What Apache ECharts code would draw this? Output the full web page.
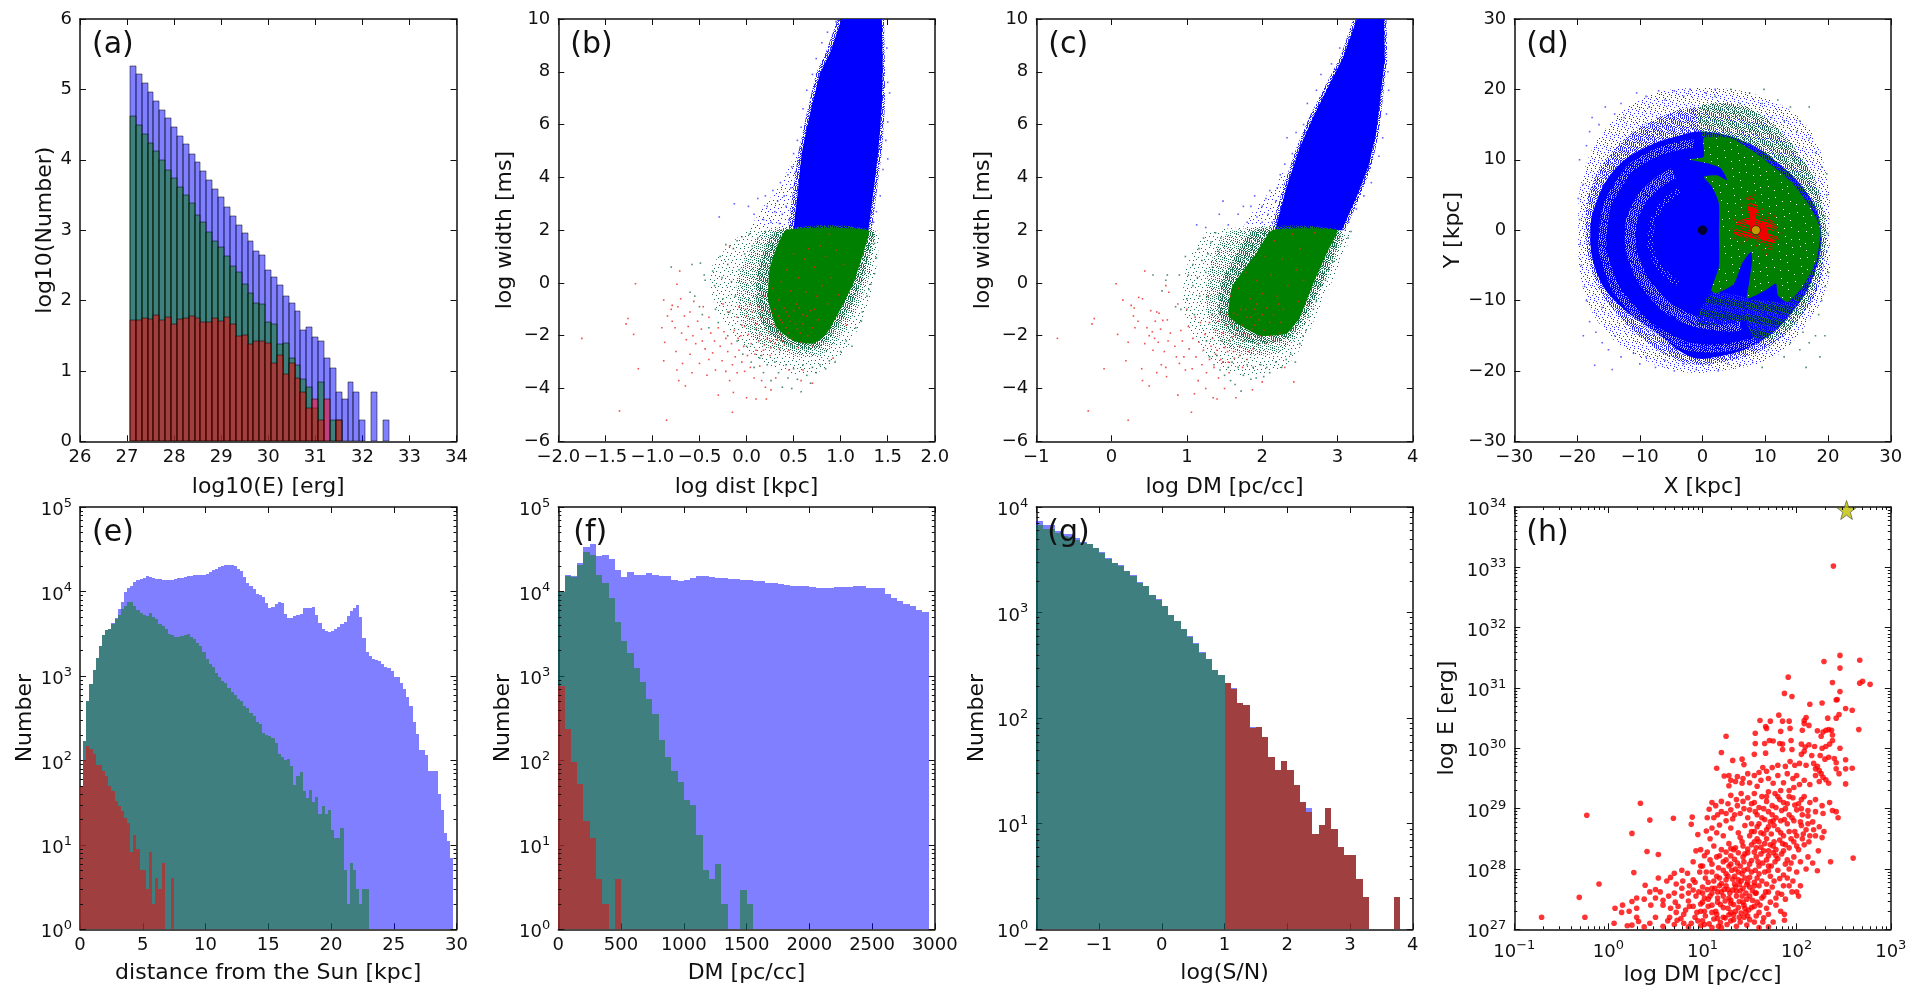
<!DOCTYPE html>
<html><head><meta charset="utf-8"><style>html,body{margin:0;padding:0;background:#fff}#c{width:1920px;height:991px}</style>
<script src="https://cdn.jsdelivr.net/npm/echarts@6/dist/echarts.min.js"></script></head><body><div id="c"></div>
<script>
// (a) log10 counts per energy bin
const aStart=27.06, aWidth=0.125;
const aBlue=[5.33,5.22,5.09,4.96,4.83,4.71,4.59,4.46,4.34,4.22,4.08,3.97,3.84,3.71,3.58,3.47,3.33,3.2,3.07,2.96,2.84,2.71,2.64,2.44,2.34,2.22,2.07,1.97,1.85,1.58,1.63,1.48,1.42,1.19,1.04,.7,.6,.84,.7,.3,0,.7,0,.3];
const aGreen=[4.62,4.49,4.37,4.24,4.12,4,3.85,3.74,3.62,3.5,3.38,3.22,3.12,2.98,2.85,2.76,2.63,2.49,2.4,2.23,2.1,1.96,1.95,1.69,1.66,1.38,1.39,1.19,1.08,.89,.77,.47,.84,0,.3,.3];
const aRed=[1.72,1.72,1.75,1.74,1.79,1.72,1.76,1.66,1.74,1.75,1.78,1.75,1.69,1.69,1.75,1.71,1.77,1.67,1.5,1.51,1.38,1.42,1.43,1.39,1.11,1.22,.95,1.11,.9,.7,.47,.6,.3,.6,0,.3];
// (e) log10 counts per distance bin
const eWidth=0.25;
const eBlue=[1.7,2.23,2.7,2.91,3.07,3.21,3.35,3.49,3.54,3.56,3.63,3.68,3.79,3.88,3.99,4.04,4.07,4.11,4.14,4.15,4.16,4.18,4.17,4.16,4.15,4.15,4.14,4.14,4.14,4.14,4.15,4.16,4.16,4.17,4.18,4.18,4.19,4.19,4.2,4.2,4.21,4.23,4.25,4.27,4.29,4.3,4.31,4.31,4.31,4.3,4.27,4.24,4.17,4.1,4.06,4.03,3.97,3.96,3.93,3.86,3.81,3.82,3.85,3.88,3.86,3.73,3.69,3.69,3.71,3.72,3.73,3.8,3.81,3.81,3.82,3.72,3.63,3.55,3.53,3.52,3.53,3.55,3.58,3.61,3.64,3.71,3.77,3.8,3.84,3.7,3.45,3.28,3.24,3.2,3.19,3.18,3.14,3.11,3.09,3.06,2.99,2.99,2.92,2.84,2.75,2.64,2.45,2.31,2.12,2.12,2.06,1.88,1.88,1.88,1.6,1.41,1.14,1.05,.85];
const eGreen=[1.7,2.23,2.7,2.91,3.07,3.21,3.35,3.49,3.54,3.56,3.62,3.67,3.72,3.79,3.83,3.87,3.87,3.83,3.78,3.74,3.72,3.71,3.74,3.7,3.67,3.61,3.59,3.55,3.5,3.49,3.46,3.46,3.47,3.49,3.5,3.46,3.44,3.39,3.35,3.28,3.2,3.14,3.1,3.03,2.99,2.94,2.92,2.86,2.81,2.77,2.73,2.7,2.64,2.62,2.56,2.53,2.46,2.43,2.33,2.3,2.29,2.27,2.21,2.07,2.04,2.01,2.02,1.93,1.71,1.82,1.86,1.64,1.56,1.65,1.51,1.57,1.37,1.46,1.37,1.41,1.18,1.08,1.08,1.2,.7,.3,.78,.7,.48,.3,.48,.48];
const eRed=[1.7,2,2.17,2.14,2.08,1.95,1.945,1.88,1.82,1.7,1.64,1.52,1.46,1.4,1.32,1.26,.91,1.12,.95,.7,.7,.48,.91,.3,.61,.48,.78,0,0,.61];
// (f) log10 counts per DM bin
const fWidth=50;
const fBlue=[3.99,4.19,4.18,4.34,4.53,4.56,4.42,4.43,4.38,4.25,4.17,4.23,4.19,4.2,4.22,4.2,4.18,4.18,4.14,4.12,4.14,4.16,4.18,4.18,4.17,4.16,4.16,4.15,4.15,4.14,4.14,4.12,4.12,4.1,4.1,4.09,4.08,4.06,4.06,4.06,4.05,4.04,4.04,4.04,4.05,4.05,4.05,4.06,4.06,4.04,4.04,4.04,3.97,3.92,3.89,3.85,3.83,3.78,3.76];
const fGreen=[3.99,4.18,4.17,4.31,4.47,4.43,4.19,4.1,3.92,3.64,3.41,3.27,3.09,2.93,2.73,2.55,2.24,2.04,1.87,1.74,1.53,1.47,1.12,.7,.6,.77,.3,0,0,.47,.3];
const fRed=[2.88,2.37,1.98,1.72,1.28,1.08,.6,.3,0,.6];
// (g) log10 counts per log(S/N) bin
const gStart=-2, gWidth=0.1;
const gBlue=[3.87,3.83,3.83,3.77,3.74,3.74,3.71,3.67,3.65,3.61,3.57,3.52,3.47,3.45,3.39,3.36,3.29,3.25,3.17,3.13,3.06,2.98,2.92,2.84,2.78,2.71,2.63,2.56,2.46,2.41,2.33,2.29,2.14,2.12,1.92,1.92,1.82,1.63,1.51,1.59,1.51,1.37,1.21,1.15,.9,.99,1.15,.95,.78,.7,.7,.48,.31,0,0,0,0,.31];
const gGreen=[3.83,3.79,3.79,3.75,3.73,3.72,3.69,3.66,3.65,3.61,3.56,3.51,3.47,3.44,3.39,3.35,3.28,3.25,3.17,3.12,3.06,2.98,2.92,2.84,2.77,2.7,2.62,2.56,2.46,2.41,2.33,2.28,2.14,2.12,1.91,1.92,1.82,1.63,1.51,1.59,1.51,1.37,1.21,1.11,.9,.99,1.15,.95,.78,.7,.7,.48,.31,0,0,0,0,.31];
const gRed=[0,0,0,0,0,0,0,0,0,0,0,0,0,0,0,0,0,0,0,0,0,0,0,0,0,0,0,0,0,0,2.33,2.28,2.14,2.12,1.91,1.92,1.82,1.63,1.51,1.59,1.51,1.37,1.21,1.11,.9,.99,1.15,.95,.78,.7,.7,.48,.31,0,0,0,0,.31];

// (b) region outlines and loose points [log dist, log width]
const bBlueSparse=[[.02,2],[.18,2.9],[.36,3.7],[.48,4.6],[.56,4.9],[.52,2]];
const bBlueWash=[[.97,10],[.84,8.71],[.74,7.95],[.64,6.43],[.55,4.92],[.5,3.65],[.44,2],[1.33,2],[1.39,3.65],[1.44,5.04],[1.47,6.69],[1.47,8.2],[1.46,10]];
const bBlueCore=[[1.01,10],[.887,8.71],[.781,7.95],[.675,6.43],[.586,4.92],[.551,3.65],[.497,2],[1.295,2],[1.355,3.65],[1.401,5.04],[1.437,6.69],[1.447,8.2],[1.437,10]];
const bGreenOuter=[[.05,2],[-.22,1.3],[-.38,.5],[-.36,-.6],[-.22,-1.6],[.02,-2.6],[.3,-3.2],[.62,-3.5],[.85,-3.2],[1.08,-2.4],[1.25,-1.2],[1.34,-.1],[1.4,1.2],[1.38,2]];
const bGreenBand=[[.22,2],[.02,1.12],[-.1,.1],[-.07,-1.2],[.108,-2.2],[.356,-2.6],[.64,-2.8],[.887,-2.5],[1.135,-1.2],[1.277,-.1],[1.355,1.37],[1.355,2]];
const bGreenMid=[[.34,2],[.16,1],[.1,-.3],[.16,-1.5],[.33,-2.15],[.56,-2.5],[.78,-2.4],[.98,-1.6],[1.18,-.4],[1.28,.8],[1.33,2]];
const bGreenCore=[[.42,2],[1.295,2],[1.24,1.12],[1.135,-.02],[.994,-1.03],[.852,-1.92],[.71,-2.3],[.5,-2.2],[.32,-1.7],[.23,-.65],[.25,.61]];
const bBlueDots=[[-.29,2.5],[-.13,3],[.02,2.9],[.08,2.6],[.12,3.2],[.18,2.4],[.2,3.3],[.22,2.9],[.26,2.3],[.28,3.5],[.3,2.7],[.33,3.1],[.35,2.25],[.36,3.8],[.38,2.6],[.4,3.3],[.42,2.9],[.44,4.1],[.45,2.4],[.47,3.6],[.48,4.4],[.5,4.9],[.52,4.2],[.54,5.4],[.58,5.9],[.6,6.6],[.64,7.3],[.7,7.9],[.74,8.5],[.8,9.1],[.86,9.5],[.95,9.9],[1.5,7.6],[1.52,7.2],[1.49,8.9],[1.5,6.1],[1.48,5.4],[1.45,4.3],[1.42,3.3],[1.5,4.7],[1.38,2.7],[1.35,2.3]];
const bGreenDots=[[-.8,.6],[-.58,.7],[-.49,.75],[-.45,.3],[-.6,-.35],[-.55,-.5],[-.5,-.9],[-.47,-1.2],[-.44,.1],[-.4,-1.7],[-.36,.45],[-.34,-.1],[-.33,-1],[-.3,-1.5],[-.28,1],[-.26,.2],[-.25,-.6],[-.22,1.45],[-.2,-2],[-.2,.7],[-.18,-1.1],[-.16,.05],[-.14,1.3],[-.12,-.5],[-.1,1.6],[-.1,-2.2],[-.08,.5],[-.05,1.75],[-.04,-2.7],[-.02,1.1],[0,-2.4],[.03,1.85],[.05,-3],[.06,1.4],[.08,-3.2],[.12,1.7],[.14,-2.85],[.18,-3.4],[.2,1.95],[.22,-3.1],[.26,-3.7],[.3,-3],[.34,-3.4],[.38,-3.95],[.42,-3.1],[.44,-3.6],[.48,-4],[.5,-3.25],[.54,-3.65],[.58,-4.12],[.6,-3.1],[.64,-3.5],[.68,-3.8],[.7,-3.2],[.74,-3.4],[.78,-3.1],[.84,-3.25],[.88,-2.95],[.94,-3],[1,-2.6],[1.06,-2.2],[1.12,-2.4],[1.16,-1.7],[1.22,-1.45],[1.23,-1.1],[1.28,-.5],[1.3,-.25],[1.32,-.05],[1.36,.35],[1.38,.95],[1.36,1.5],[1.34,1.8]];
const bRedDots=[[-1.75,-2.1],[-1.35,-4.85],[-1.28,-1.55],[-1.26,-1.35],[-1.2,-1.95],[-1.18,-.03],[-1.15,-3.25],[-.9,-1.7],[-.88,-.65],[-.88,-2.95],[-.87,-2.25],[-.85,-5.2],[-.84,-1.25],[-.8,-1],[-.79,-.85],[-.79,-1.45],[-.76,-1.7],[-.75,-2.6],[-.74,-3.3],[-.74,-.05],[-.73,-.9],[-.72,-3.7],[-.71,.45],[-.7,-.6],[-.69,-1.9],[-.68,-3.05],[-.66,-1.25],[-.65,-3.9],[-.64,-2.15],[-.62,-1.65],[-.6,-2.7],[-.6,-1.1],[-.58,-3.4],[-.57,-2],[-.56,-.7],[-.54,-2.3],[-.52,-1.45],[-.5,-3.05],[-.48,-1.75],[-.47,-2.2],[-.46,-.9],[-.44,-2.5],[-.42,-3.5],[-.4,-2.9],[-.4,-1.3],[-.38,-1.9],[-.36,-2.65],[-.34,-2.2],[-.33,-3.3],[-.3,-4.25],[-.3,-1.7],[-.28,-2.4],[-.26,-2.95],[-.25,-.8],[-.24,-1.85],[-.22,-2.1],[-.22,-3.35],[-.2,-2.6],[-.2,-1.1],[-.18,-3.7],[-.18,1.4],[-.16,-2.3],[-.15,-3.1],[-.14,-4.15],[-.13,-1.8],[-.12,-2.8],[-.1,-1.3],[-.1,-3.4],[-.09,-2.1],[-.08,-.9],[-.08,-2.55],[-.05,-3],[-.05,-1.6],[-.03,-2.4],[-.02,-3.35],[-.01,-1],[0,-4.35],[.01,-2.75],[.02,-1.95],[.04,-.8],[.04,-3.2],[.05,-2.3],[.07,-1.35],[.08,-3.6],[.09,-2.7],[.1,-4.4],[.1,-1.75],[.12,-.9],[.13,-2.2],[.14,-3.15],[.15,-1.3],[.16,-3.7],[.18,-2.55],[.19,-.5],[.2,-1.7],[.2,-3.95],[.21,-4.4],[.22,-2.1],[.24,-1.1],[.25,-2.75],[.26,-4.05],[.27,-1.55],[.28,-.2],[.3,-2.3],[.3,-1],[.31,-3.6],[.33,-1.85],[.34,-.65],[.36,-1.4],[.37,.05],[.38,-2.2],[.4,-.95],[.42,-1.7],[.43,.5],[.45,-1.25],[.47,-.3],[.48,-2.1],[.5,1.1],[.52,-1.55],[.53,-.8],[.55,.2],[.57,-1.9],[.58,-3.7],[.6,-1.2],[.62,.9],[.63,-.35],[.65,-2],[.66,1.3],[.68,-1.05],[.7,-2.4],[.7,-3.8],[.72,.6],[.74,-.5],[.76,-1.4],[.78,1.4],[.8,-.1],[.84,1],[.86,-.8],[.88,1.85],[.9,.2],[.92,-2.85],[.95,1.25],[.98,-.45],[1.03,.7],[1.06,-1.6],[-.15,-4.9],[.45,-3.3],[.6,-3.3],
[.06,-1.1],[.11,-1.55],[.14,-1.95],[.17,-1.05],[.19,-2.35],[.22,-1.35],[.24,-1.85],[.26,-2.45],[.28,-1.15],[.3,-1.65],[.32,-2.15],[.34,-1.25],[.36,-1.95],[.38,-1.5],[.4,-2.35],[.42,-1.1],[.44,-1.9],[.46,-1.45],[.48,-2.3],[.5,-1.05],[.54,-1.75],[.56,-.95],[.58,-2.25],[.6,-1.55],[.64,-1.25],[.7,-1.7],[.72,-1],[.1,-2.55],[.16,-2.75],[.25,-2.2],[.35,-2.5],[.45,-2.55],[.55,-2.45],[-.02,-1.65],[0,-1.25],[-.06,-2]];

// (c) region outlines and loose points [log DM, log width]
const cBlueSparse=[[1.72,2],[1.92,2.9],[2.12,3.5],[2.3,4.3],[2.34,3.6],[2.2,2]];
const cBlueWash=[[3.21,10],[3.04,8.58],[2.81,7.32],[2.63,6.31],[2.46,5.17],[2.28,3.65],[2.12,2],[3.1,2],[3.3,3.27],[3.45,4.41],[3.55,5.67],[3.6,6.94],[3.66,8.46],[3.65,10]];
const cBlueCore=[[3.256,10],[3.079,8.58],[2.857,7.32],[2.68,6.31],[2.503,5.17],[2.326,3.65],[2.171,2],[3.057,2],[3.256,3.27],[3.411,4.41],[3.513,5.67],[3.566,6.94],[3.628,8.46],[3.619,10]];
const cGreenOuter=[[1.32,2],[1.1,1.3],[.98,.4],[.95,-.8],[1.08,-2],[1.34,-3],[1.72,-3.5],[2.1,-3.4],[2.36,-3],[2.55,-2.3],[2.75,-1],[2.95,.2],[3.1,1.2],[3.16,2]];
const cGreenBand=[[1.62,2],[1.36,1.12],[1.26,-.14],[1.28,-1.3],[1.5,-2.4],[1.88,-2.75],[2.24,-2.6],[2.5,-1.9],[2.76,-.4],[2.96,.87],[3.05,2]];
const cGreenMid=[[1.9,2],[1.64,1],[1.44,-.1],[1.44,-1.3],[1.68,-2.1],[2,-2.3],[2.34,-2.1],[2.56,-1.3],[2.78,-.1],[2.98,1.3],[3.02,2]];
const cGreenCore=[[2.13,2],[2.99,2],[2.857,1.12],[2.68,-.02],[2.503,-1.28],[2.326,-1.92],[1.972,-2],[1.56,-1.28],[1.6,-.14],[1.92,1.12]];
const cBlueDots=[[1.13,2.2],[1.25,2.1],[1.43,2.6],[1.48,3.1],[1.55,2.2],[1.68,2.6],[1.75,2.9],[1.8,2.3],[1.85,2.9],[1.9,3.3],[1.93,2.5],[2,2.9],[2,2.3],[2.05,3.2],[2.08,2.6],[2.1,3.5],[2.13,2.3],[2.18,3.1],[2.2,3.6],[2.24,4.1],[2.3,4.5],[2.33,5.5],[2.4,4.9],[2.45,5.7],[2.55,6],[2.6,6.8],[2.72,7.3],[2.78,7.9],[2.92,8.3],[3.03,8.9],[3.15,9.3],[3.67,8],[3.68,7.3],[3.65,6.4],[3.6,5.5],[3.55,4.8],[3.45,3.8],[3.35,3.3],[3.25,2.8],[3.15,2.3]];
const cGreenDots=[[.55,.3],[.67,-.3],[.72,.1],[.74,.3],[.85,-.9],[.92,-1],[.9,.3],[.98,1],[1,-.6],[1.02,.3],[1.08,-.1],[1.08,.7],[1.1,-1.2],[1.14,.2],[1.16,1.3],[1.17,-.5],[1.2,.85],[1.22,1.7],[1.25,.4],[1.26,-2.2],[1.28,1.1],[1.3,-2.8],[1.32,1.55],[1.34,.6],[1.36,-3.1],[1.38,1.9],[1.4,-2.75],[1.42,1.2],[1.44,-3.3],[1.45,1.7],[1.48,-3],[1.5,-3.5],[1.55,-3.2],[1.58,-3.7],[1.6,-3],[1.64,-3.85],[1.68,-3.2],[1.72,-4.1],[1.75,-3.5],[1.8,-3.1],[1.85,-3.65],[1.88,-3.2],[1.92,-3.6],[1.98,-3.1],[2.02,-3.55],[2.06,-3.2],[2.1,-3.4],[2.18,-3],[2.26,-3.2],[2.32,-2.9],[2.38,-2.7],[2.44,-3],[2.5,-2.3],[2.54,-2],[2.58,-1.8],[2.62,-1.3],[2.68,-1],[2.72,-.7],[2.78,-.1],[2.84,.1],[2.88,.5],[2.94,.8],[2.98,1.4],[3.06,1.6],[3.14,1.7],[3.18,1.95]];
const cRedDots=[[-.72,-2.1],[-.31,-4.85],[-.26,-1.55],[-.23,-1.35],[-.1,-3.25],[.06,-.03],[.08,-1.95],[.15,-.65],[.19,-2.95],[.22,-2.25],[.22,-5.2],[.26,-.85],[.29,-1.25],[.3,-.95],[.31,-1.7],[.35,-1.45],[.36,-.55],[.4,-3.25],[.41,-3.7],[.41,-.6],[.44,.45],[.44,-2.3],[.47,-1.7],[.5,-3.9],[.5,-2],[.52,-1.05],[.54,-1.85],[.55,-2.55],[.57,-2.1],[.58,-1.45],[.6,-1.1],[.6,-3.4],[.62,-2.25],[.63,-1.15],[.65,-1.75],[.66,-3.1],[.68,-1.42],[.7,-2.6],[.72,-3.2],[.73,-3.55],[.74,-1.4],[.75,-2.2],[.72,-.1],[.76,-.35],[.78,-1.9],[.84,-2.4],[.86,-2.8],[.88,-4.25],[.88,-.8],[.9,-3.05],[.92,-1.8],[.94,-2.2],[.96,-2.8],[.98,-3.3],[1,-1],[1.02,-1.65],[1.03,-2.5],[1.06,-4.9],[1.07,-3.25],[1.08,-2.1],[1.1,-4.2],[1.11,-1.3],[1.12,-2.8],[1.15,-3.7],[1.16,-2.25],[1.18,-1.5],[1.2,-3.1],[1.22,-2.55],[1.24,-1.95],[1.25,-4],[1.26,-3.4],[1.28,-.5],[1.3,-2.9],[1.32,-2.4],[1.33,-1.2],[1.35,-4.35],[1.36,-3.2],[1.38,-1.8],[1.4,-2.55],[1.4,-4.4],[1.42,-3.6],[1.44,-1.1],[1.46,-2.2],[1.48,-3],[1.5,-4],[1.52,-1.6],[1.54,-2.6],[1.56,-3.4],[1.58,-.5],[1.6,-2.05],[1.62,-1.15],[1.63,-2.85],[1.65,-4.35],[1.66,-1.7],[1.68,-.2],[1.7,-2.4],[1.72,-1],[1.74,-3.2],[1.76,-1.9],[1.78,.4],[1.8,-1.3],[1.82,-2.6],[1.84,-.6],[1.86,-1.75],[1.87,-4.05],[1.9,-1],[1.92,.1],[1.94,-2.3],[1.96,-1.4],[2,-.4],[2,-3.75],[2.02,-1.8],[2.04,1],[2.06,-.95],[2.1,-2],[2.12,.3],[2.15,-1.2],[2.16,1.6],[2.2,-.5],[2.23,-1.9],[2.26,.9],[2.28,-1],[2.3,-3.2],[2.34,-.1],[2.4,1.85],[2.42,-3.75],[2.45,.5],[2.48,-.7],[2.5,1.3],[2.55,.1],[2.6,-.85],[2.7,1.9],
[1.3,-1.5],[1.34,-2.1],[1.38,-2.7],[1.42,-1.45],[1.45,-2.9],[1.48,-1.9],[1.5,-2.45],[1.53,-1.2],[1.55,-3],[1.57,-2.2],[1.6,-1.55],[1.62,-2.6],[1.65,-1.95],[1.67,-1.2],[1.7,-2.75],[1.73,-1.6],[1.75,-2.2],[1.78,-1],[1.8,-2.9],[1.83,-2],[1.85,-1.3],[1.88,-2.5],[1.9,-1.6],[1.93,-.8],[1.97,-2],[2,-1.2],[2.05,-2.3],[2.1,-1.5],[2.15,-2.2],[2.22,-.8],[2.25,-1.5]];

// (d) galactic map outlines and loose points [X, Y]
const dBlueWash=[[-19.8,0],[-19,8],[-15.2,14.7],[-8.8,19],[-.3,20.2],[9.3,19],[16.7,14.7],[19.9,7.1],[20.2,0],[19.9,-7.6],[16.2,-13.8],[11.4,-18],[3.4,-19.9],[-4.6,-19.9],[-12.6,-16.6],[-16.8,-12.8],[-19.2,-7.6]];
const dBlueMid=[[-18.6,0],[-17.8,6],[-13.5,12],[-7,16],[0,17.5],[7,16.5],[13,13],[17.5,7],[19.3,0],[18.8,-7],[15.5,-12.5],[10,-16.8],[2.5,-18.8],[-3,-18.8],[-9,-15.8],[-14.5,-11],[-17.5,-6]];
const dBlueSolid=[[-17.9,-.5],[-16.8,4.3],[-13.6,9],[-8.8,11.9],[-3.5,13.5],[.2,14],[6.1,12.8],[11.4,10],[16.7,5.2],[18.9,0],[17.8,-6.2],[14.1,-11.9],[8.7,-16.1],[2.3,-18],[-1.9,-18],[-7.2,-14.7],[-13.6,-10.4],[-16.8,-6.2]];
const dRing1=[[-4.6,8.1],[-7.8,6.2],[-10.4,3.3],[-11.5,-.5],[-10.7,-4.7],[-7.8,-9],[-3.5,-12.1],[2.3,-13.5],[6.1,-13.5]];
const dRing2=[[-1.4,12.3],[-8.8,10.4],[-13.6,6.2],[-15.8,.5],[-15,-5.7],[-11.5,-10.9],[-5.6,-15.2],[.7,-16.8],[8.7,-15.7]];
const dRing3=[[-3.5,5.7],[-6.7,3.3],[-8.3,-.9],[-7.2,-4.7],[-4,-7.6]];
const dGreenWash=[[-.5,17.5],[5,18],[9.3,16.5],[14,12.5],[18,7],[19.7,0],[19,-5],[17,-10],[14,-14],[9,-16],[7,-13],[7.5,-10],[13.5,-10.2],[15.9,-8.1],[18.1,-4.3],[18.8,0],[17.3,3.1],[14.1,6.9],[9.3,10.44],[4.5,13.05],[.2,13.05]];
const dGreenLow=[[-.85,-13.3],[1.3,-9],[7.1,-9.7],[6.9,-12.8]];
const dGreenMain=[[-2.2,10.06],[.2,10.44],[.2,13.05],[4.5,13.05],[9.3,10.44],[14.1,6.9],[17.3,3.1],[18.8,0],[18.1,-4.3],[15.9,-8.1],[13.5,-10.2],[12,-9.25],[11.7,-7.6],[10.1,-8.5],[7.1,-9.7],[7.4,-7.6],[7.9,-4.3],[7.7,-3.1],[6.3,-4.7],[5,-7.6],[2.1,-9],[1.4,-8.5],[2.6,-5.2],[2.6,-.5],[2.6,3.8],[1.5,6.2],[.2,7.6],[2.3,7.8],[3.9,7.1],[2.9,8.8],[.7,9.5]];
const dRedBlob=[[7.4,5],[8.7,3.6],[9.2,2],[10.4,2],[11.6,.9],[11.8,-1.2],[10.8,-2.8],[9.4,-1.9],[8,-1.2],[6.6,-1.1],[5,-.4],[5.4,1.1],[7,1.9]];
const dRedCore=[[7.8,3.5],[8.4,2.5],[8.5,.9],[10,.7],[10.6,-1.2],[9.2,-.8],[7.6,-.2],[7.5,1.6]];
const dBlueDots=[[-19.8,4.5],[-19.6,10],[-18.5,12],[-18,14],[-17.6,16],[-16.5,15],[-15.5,17.5],[-14,16.5],[-13,18],[-12.5,16],[-10.5,19.5],[-9,19],[-8.5,17.5],[-7,19.8],[-6,18.5],[-4.5,19.8],[-3,19],[-2,20],[.5,19.5],[2,20],[-19.5,-2],[-19.3,-5],[-19.6,1.5],[-19,6.5],[-18.8,-8],[-18.5,-10],[-18,-13],[-19,-15],[-17,-14.5],[-16,-16],[-16,-11],[-15,-17],[-14,-15],[-14.4,-19.8],[-17.2,-19.2],[-13,-18],[-11,-17.5],[-10,-19],[-9,-18],[-7.5,-19.5],[-6,-18.5],[-4.5,-20],[-3,-19],[-1,-19.8],[1,-19.2],[2.5,-20],[4,-19],[6,-19.2],[8,-18.8]];
const dGreenDots=[[2,19],[4.5,20],[6,18],[7.5,19.5],[9.5,18],[9.8,20],[11,16],[12,18.5],[13,15.5],[14,17.5],[15,14],[15.5,15.5],[17,17.5],[17,13],[18,11],[19,9],[19.8,8],[19.8,5],[19.5,2],[20,-.5],[19.8,-3],[20,-6],[19.5,-8],[19,-10],[18.5,-12],[18,-15],[19.5,-15],[18.7,-18],[17,-16],[16,-14.5],[15.5,-17],[16.5,-19.5],[14,-16],[13,-18],[12,-15.5],[10.5,-17],[9.5,-19.5],[8,-15.5]];
const dRedDots=[[7,4.5],[8.2,5],[7.4,3],[6.5,2.8],[5,1.5],[4.6,.2],[5,-1.2],[6.2,-1.8],[7,-1.4],[8.6,-2.2],[11.8,.4],[12,-1.3],[11.4,2],[10.6,2.4],[9.6,3],[11,-2.6],[9.7,-2.8],[10.2,-3.4],[12.6,-.4],[6.2,3.6]];
const dGalacticCentre=[[0,0]];
const dSun=[[8.5,0]];

// (h) points as [log10 DM, log10 E]
const hStar=[[2.53,33.95]];
const hPoints=[[2.39,33.02],[2.46,31.54],[2.67,31.46],[2.29,31.44],[2.46,31.33],[1.91,31.18],[2.7,31.11],[2.67,31.08],[2.78,31.06],[2.38,31.09],[1.87,30.91],[1.95,30.86],[2.46,30.94],[2.14,30.73],[2.27,30.75],[2.42,30.8],[2.43,30.81],[2.52,30.66],[2.59,30.63],[2.45,30.56],[2.42,30.5],[2.66,30.31],[2.33,30.5],[1.81,30.55],[2.1,30.51],[2.08,30.46],[2.08,30.41],[2.13,30.38],[2.06,30.3],[1.61,30.46],[1.72,30.45],[1.85,30.45],[1.92,30.45],[1.93,30.33],[1.83,30.28],[1.67,30.36],[1.68,30.33],[1.56,30.25],[1.25,30.2],[1.56,30.08],[1.66,30.08],[1.71,30.13],[1.75,30.12],[1.82,30.08],[1.85,30.07],[1.94,30.13],[1.85,29.98],[1.95,29.98],[1.2,29.93],[1.67,29.92],[1.55,29.9],[1.32,29.8],[1.42,29.82],[1.44,29.73],[1.15,29.67],[1.23,29.54],
[2.22,30.29],[2.26,30.2],[2.28,30.27],[2.31,30.3],[2.34,30.31],[2.37,30.3],[2.38,30.22],[2.38,30.13],[2.35,30.07],[2.31,30.03],[2.27,30],[2.19,30.03],[2.13,30.06],[2.09,30.02],[2.05,30.07],[2.08,29.95],[2.05,29.9],[2.16,29.88],[2.25,29.88],[2.3,29.82],[2.34,29.85],[2.4,29.83],[2.42,29.76],[2.46,30],[2.52,29.81],[2.42,29.66],[2.52,29.66],[2.59,29.67],[2.52,29.41],[2.45,29.58],[2.18,29.75],[2.2,29.66],[2.22,29.7],[2.24,29.63],[2.2,29.55],[2.26,29.58],[2.28,29.52],[2.31,29.48],[2.24,29.45],[2.34,29.42],[2.1,29.72],[2.03,29.75],[1.98,29.72],[1.93,29.78],[1.88,29.7],[1.8,29.72],[1.74,29.68],[1.68,29.62],[1.64,29.68],[1.6,29.6],[1.55,29.55],[1.48,29.58],[1.43,29.5],[1.37,29.53],[1.3,29.47],[1.28,29.55],[1.35,29.45],[1.28,29.38],[1.42,29.42],[1.5,29.43],[1.58,29.37],[1.62,29.47],[1.7,29.5],[1.75,29.42],[1.8,29.55],[1.86,29.43],[1.9,29.58],[1.96,29.5],[2,29.55],[2.03,29.4],[2.08,29.47],[2.14,29.4],[1.97,29.35],[1.92,29.3],[1.83,29.3],[1.77,29.25],[1.7,29.28],[1.63,29.2],[1.55,29.25],[1.48,29.18],[1.41,29.25],[1.36,29.15],[1.3,29.22],[1.27,29.08],[1.2,29.12],[1.1,29.1],[1.14,29.05],[1.07,28.99],[1.16,28.9],[1.05,28.85],[1.12,28.85],[1.2,28.95],[1.3,28.98],[1.37,29.05],[1.44,29],[1.52,29.08],[1.6,29.02],[1.68,29.12],[1.74,29.05],[1.82,29.15],[1.9,29.08],[1.96,29.18],[2.02,29.08],[2.08,29.2],[2.14,29.1],[2.2,29.15],[2.27,29.05],[2.35,29.1],[2.38,28.97],[2.42,28.95],[2.44,28.85],[2.28,28.92],[2.2,28.95],[2.12,28.97],[2.06,28.9],[2,28.98],[1.92,28.9],[1.84,28.97],[1.78,28.85],[1.7,28.95],[1.63,28.85],[1.56,28.95],[1.48,28.85],[1.4,28.92],[1.32,28.83],[1.25,28.8],[1.18,28.73],[1.1,28.68],[1.04,28.63],[.95,28.57],[1.08,28.5],[1.15,28.6],[1.22,28.55],[1.3,28.68],[1.38,28.6],[1.45,28.72],[1.52,28.62],[1.6,28.75],[1.68,28.65],[1.76,28.72],[1.83,28.6],[1.9,28.75],[1.98,28.62],[2.04,28.78],[2.1,28.65],[2.17,28.78],[2.24,28.7],[2.29,28.62],[2.27,28.52],[2.2,28.55],[2.13,28.45],[2.06,28.5],[2,28.38],[1.94,28.5],[1.88,28.4],[1.82,28.48],[1.75,28.38],[1.68,28.5],[1.62,28.36],[1.55,28.45],[1.48,28.33],[1.42,28.45],[1.35,28.35],[1.28,28.42],[1.2,28.32],[1.12,28.38],[1.05,28.28],[.98,28.32],[1.02,28.22],[.93,28.3],[.9,28.12],[.98,28.05],[1.08,28.15],[1.15,28.2],[1.22,28.12],[1.3,28.22],[1.37,28.1],[1.43,28.2],[1.5,28.08],[1.57,28.2],[1.64,28.1],[1.7,28.22],[1.77,28.12],[1.84,28.25],[1.9,28.15],[1.97,28.2],[2.04,28.12],[2.12,28.2],[2.17,28.1],[2.23,28.3],[2.36,28.12],[2.6,28.18],[2.22,27.97],[2.1,28],[2,27.95],[1.92,28],[1.86,27.9],[1.8,27.98],[1.72,27.88],[1.66,27.95],[1.58,27.85],[1.52,27.95],[1.45,27.85],[1.38,27.95],[1.32,27.83],[1.25,27.92],[1.18,27.85],[1.1,27.95],[1.03,27.85],[.97,27.95],[.9,27.82],[.84,27.93],[.78,27.98],[.7,27.93],[.66,27.86],[.62,27.8],[.72,27.75],[.79,27.8],[.86,27.72],[.92,27.78],[1,27.7],[1.06,27.78],[1.13,27.68],[1.2,27.76],[1.27,27.66],[1.34,27.75],[1.4,27.64],[1.47,27.74],[1.53,27.64],[1.6,27.72],[1.67,27.62],[1.74,27.7],[1.8,27.6],[1.86,27.72],[1.95,27.62],[2,27.62],[2.02,27.55],[1.88,27.5],[1.78,27.52],[1.72,27.45],[1.65,27.55],[1.58,27.45],[1.5,27.55],[1.43,27.45],[1.36,27.55],[1.3,27.43],[1.22,27.55],[1.16,27.45],[1.08,27.55],[1,27.45],[.93,27.55],[.85,27.47],[.78,27.55],[.71,27.45],[.64,27.55],[.58,27.48],[.5,27.52],[.45,27.4],[.38,27.5],[.3,27.52],[.25,27.46],
[.44,27.62],[.5,27.66],[.55,27.62],[.58,27.4],[.66,27.35],[.74,27.38],[.82,27.32],[.9,27.38],[.98,27.3],[1.06,27.38],[1.14,27.3],[1.22,27.36],[1.3,27.28],[1.38,27.36],[1.46,27.28],[1.52,27.36],[1.6,27.28],[1.7,27.25],[1.68,27.35],[1.87,27.25],[1.87,27.15],[.58,27.05],[.63,27.14],[.7,27.08],[.77,27.18],[.85,27.04],[.88,27.1],[.92,27.2],[.98,27.06],[1,27.14],[1.03,27.22],[1.07,27.09],[1.1,27.03],[1.12,27.17],[1.15,27.25],[1.19,27.11],[1.2,27.03],[1.24,27.19],[1.26,27.08],[1.3,27.14],[1.33,27.24],[1.36,27.05],[1.4,27.12],[1.44,27.2],[1.47,27.07],[1.5,27.16],[1.55,27.12],[1.6,27.03],[1.65,27.19],[1.7,27.04],[.5,27.2],[.44,27.1],[.38,27.04],[.32,27.13],[.25,27.07],[.2,27.06],[.3,27.2],
[-.71,27.2],[-.25,27.2],[-.31,27.53],[-.1,27.75],[.07,27.35],[.15,27.4],[.06,27.1],[.14,27.28],[.22,27.3],[.3,27.35],[-.23,28.89],[.34,29.09],[.44,28.81],[.69,28.84],[.89,28.86],[.88,28.74],[.25,28.59],[.41,28.29],[.53,28.24],[.27,27.94],[.39,27.73],[.53,27.85],[1,28.05],[1.04,27.95],[1.33,28.32],[1.5,28.55],[1.58,28.5],[1.66,28.42],[1.4,28.52],[1.45,28.25],[1.55,28.28],[1.7,28.3],[1.78,28.22],[1.86,28.3],[1.6,28.05],[1.48,28],[1.35,28],[1.28,28.05],[1.17,28.02],[1.1,28.08],[1.42,27.92],[1.56,27.98],[1.7,28.05],[1.76,28.45],[1.83,28.8],[1.72,28.78],[1.62,28.6],[1.52,28.75],[1.95,28.85],[2.05,29],[1.88,29],[1.74,28.9],[2.12,28.88],[1.35,27.7],[1.2,27.62],[1.28,27.52],[1.42,27.55],[1.1,27.68],[1,27.6],[.9,27.65],[1.55,27.72],[1.32,27.65],[1.45,27.35],[1.3,27.48],[1.25,27.72],[1.38,27.82],[1.48,27.78],[1.12,27.8],[1.25,27.82],
[1.16,27.52],[1.19,27.41],[1.24,27.47],[1.27,27.35],[1.33,27.41],[1.35,27.3],[1.39,27.46],[1.41,27.27],[1.44,27.4],[1.47,27.5],[1.49,27.32],[1.53,27.48],[1.55,27.38],[1.57,27.6],[1.61,27.4],[1.63,27.52],[1.16,27.62],[1.23,27.66],[1.29,27.6],[1.36,27.63],[1.39,27.74],[1.43,27.68],[1.46,27.6],[1.5,27.7],[1.56,27.6],[1.1,27.6],[1.06,27.5],[1.18,27.72],[1.15,27.88],[1.22,27.98],[1.27,27.88],[1.31,27.98],[1.34,27.88],[1.41,27.8],[1.44,27.98],[1.5,27.86],[1.55,27.78],[1.6,27.92],[1.63,27.8],[1.68,27.75],[1.7,27.97],[1.76,27.8],[1.82,27.84],[1.9,27.85],[1.96,27.8],[1.25,28.15],[1.3,28.08],[1.34,28.16],[1.4,28.05],[1.44,28.12],[1.48,28.27],[1.52,28.14],[1.59,28.12],[1.62,28.25],[1.68,28.15],[1.73,28.05],[1.75,28.27],[1.8,28.17],[1.88,28.08],[1.94,28.1],[1.38,28.27],[1.3,28.34],[1.25,28.28],[1.18,28.22],[1.43,28.38],[1.52,28.4],[1.57,28.35],[1.6,28.45],[1.65,28.3],[1.72,28.4],[1.78,28.32],[1.85,28.42],[1.92,28.35],[1.97,28.45],[2.02,28.32],[2.08,28.4],[1.55,28.62],[1.58,28.7],[1.65,28.58],[1.7,28.7],[1.73,28.58],[1.8,28.65],[1.86,28.55],[1.92,28.62],[2,28.55],[2.07,28.58],[2.14,28.55],[2.18,28.65],[1.75,28.8],[1.87,28.82],[1.97,28.8],[2.05,28.72],[2.12,28.75],[1.66,28.82],[1.58,28.9],[1.5,28.98],[1.65,29],[1.78,29.02],[1.86,29.1],[1.98,29.06],[2.05,29.15],[1.92,29.2],[1.8,29.2],[1.68,29.2],[1.55,29.1],[1.43,29.12],[1.34,28.9],[1.25,28.92],[.98,27.42],[.94,27.28],[1.02,27.3],[1.1,27.4],[.86,27.38],[.8,27.25],[.72,27.28],[.65,27.2],[1.02,27.52],[.96,27.62],[.85,27.6],[.78,27.68],[.7,27.6],[1.05,27.66],[1.33,27.16],[1.22,27.2],[1.17,27.05],[1.28,27.24],[1.39,27.2],[1.48,27.22],[1.57,27.22],[1.16,27.18],[1.1,27.28],[1.02,27.08],[.95,27.14],[.8,27.1],[.73,27.15],[1.64,27.12],[1.75,27.12],[1.83,27.3],[1.78,27.4],[1.7,27.62],[1.84,27.58],[1.92,27.72],[2.04,27.72]];

// stipple textures that stand in for the unresolved speckle of dense point clouds
function tile(density,color,px){
 const S=96,c=document.createElement('canvas');c.width=c.height=S;
 const g=c.getContext('2d');g.fillStyle=color;
 const n=Math.round(S*S*density/(px*px));
 for(let i=1;i<=n;i++){const x=Math.floor((i*0.7548776662%1)*S),y=Math.floor((i*0.5698402910%1)*S);g.fillRect(x,y,px,px);}
 return {image:c,repeat:'repeat'};
}
const C={blue:'rgba(0,0,255,.5)',green:'rgba(0,128,0,.5)',red:'rgba(255,0,0,.5)'};
const layout=[{l:80,t:19},{l:558.3,t:19},{l:1036.3,t:19},{l:1514.3,t:19},{l:80,t:507},{l:558.3,t:507},{l:1036.3,t:507},{l:1514.3,t:507}];
const W=376.5,H=422.3,FONT='"DejaVu Sans"';
const minus=v=>String(v).replace('-','\u2212');
const oneDec=v=>v.toFixed(1).replace('-','\u2212');
const sup=v=>{const e=Math.round(Math.log10(v));return '{b|10}{s|'+minus(e)+'}'};
const rich={b:{fontSize:18,fontFamily:FONT,color:'#111',padding:[7,0,0,0]},s:{fontSize:13,fontFamily:FONT,color:'#111',padding:[0,0,7,0]}};
const panels=[
 {n:'(a)',x:{min:26,max:34,interval:1,name:'log10(E) [erg]',gap:35},y:{min:0,max:6,interval:1,name:'log10(Number)',gap:24}},
 {n:'(b)',x:{min:-2,max:2,interval:.5,fmt:oneDec,name:'log dist [kpc]',gap:35},y:{min:-6,max:10,interval:2,name:'log width [ms]',gap:42}},
 {n:'(c)',x:{min:-1,max:4,interval:1,name:'log DM [pc/cc]',gap:35},y:{min:-6,max:10,interval:2,name:'log width [ms]',gap:42}},
 {n:'(d)',x:{min:-30,max:30,interval:10,name:'X [kpc]',gap:35},y:{min:-30,max:30,interval:10,name:'Y [kpc]',gap:46}},
 {n:'(e)',x:{min:0,max:30,interval:5,name:'distance from the Sun [kpc]',gap:33},y:{log:1,min:1,max:1e5,name:'Number',gap:44}},
 {n:'(f)',x:{min:0,max:3000,interval:500,name:'DM [pc/cc]',gap:33},y:{log:1,min:1,max:1e5,name:'Number',gap:44}},
 {n:'(g)',x:{min:-2,max:4,interval:1,name:'log(S/N)',gap:33},y:{log:1,min:1,max:1e4,name:'Number',gap:48}},
 {n:'(h)',x:{log:1,min:.1,max:1000,name:'log DM [pc/cc]',gap:35},y:{log:1,min:1e27,max:1e34,name:'log E [erg]',gap:56}}
];
const line={show:true,onZero:false,lineStyle:{color:'#111',width:1.5}};
function axis(c,pos,gi,vertical,primary){
 const a={type:c.log?'log':'value',logBase:10,min:c.min,max:c.max,gridIndex:gi,position:pos,axisLine:line,splitLine:{show:false},
  axisTick:{show:true,inside:true,length:6,lineStyle:{color:'#111',width:1}},
  axisLabel:{show:primary,color:'#111',fontFamily:FONT,fontSize:18,margin:vertical?8:7,showMinLabel:true,showMaxLabel:true,hideOverlap:false,rich}};
 if(c.interval)a.interval=c.interval; else a.interval=1;
 a.axisLabel.formatter=c.log?sup:(c.fmt||minus);
 if(primary){a.name=c.name;a.nameLocation='middle';a.nameGap=c.gap;a.nameTextStyle={color:'#111',fontFamily:FONT,fontSize:22}}
 return a;
}
const grid=[],xAxis=[],yAxis=[],title=[],series=[];
panels.forEach((p,i)=>{
 const L=layout[i];
 grid.push({left:L.l,top:L.t,width:W,height:H,containLabel:false,show:false});
 xAxis.push(axis(p.x,'bottom',i,false,true),axis(p.x,'top',i,false,false));
 yAxis.push(axis(p.y,'left',i,true,true),axis(p.y,'right',i,true,false));
 title.push({text:p.n,left:L.l+(i==5?10:i==6?6:7),top:L.t+6,textStyle:{fontFamily:FONT,fontSize:30,fontWeight:'normal',color:'#111'},z:10});
});
const ax=i=>({xAxisIndex:2*i,yAxisIndex:2*i});
function hist(i,name,logs,start,width,fill,stroke){
 const yBase=panels[i].y.min;
 const data=[];
 logs.forEach((v,k)=>{ if(v>0) data.push([start+k*width,start+(k+1)*width,panels[i].y.log?Math.pow(10,v):v]); });
 series.push({type:'custom',name,...ax(i),clip:true,silent:true,animation:false,data,encode:{x:[0,1],y:2},
  renderItem:(p,api)=>{
   const a=api.coord([api.value(0),yBase]),b=api.coord([api.value(1),api.value(2)]);
   const x0=Math.round(a[0]),x1=Math.round(b[0]),y1=Math.round(b[1]),y0=Math.round(a[1]);
   return {type:'rect',shape:{x:x0,y:y1,width:x1-x0,height:y0-y1},style:{fill,stroke:stroke||null,lineWidth:stroke?1:0}};
  }});
}
function poly(i,pts,fill,smooth){
 series.push({type:'custom',...ax(i),clip:true,silent:true,animation:false,data:pts,
  renderItem:(p,api)=>p.dataIndex?null:{type:'polygon',shape:{points:pts.map(q=>api.coord(q)),smooth:smooth||0},style:{fill}}});
}
function stroke(i,pts,col,w){
 series.push({type:'custom',...ax(i),clip:true,silent:true,animation:false,data:pts,
  renderItem:(p,api)=>p.dataIndex?null:{type:'polyline',shape:{points:pts.map(q=>api.coord(q)),smooth:.5},style:{stroke:col,lineWidth:w,fill:null}}});
}
function dots(i,pts,color,size){
 series.push({type:'scatter',...ax(i),clip:true,silent:true,animation:false,symbol:'rect',symbolSize:size||1.6,itemStyle:{color},data:pts});
}
function minor(i,which){
 const c=which=='y'?panels[i].y:panels[i].x, o=which=='y'?panels[i].x:panels[i].y, vals=[];
 for(let e=Math.round(Math.log10(c.min));e<Math.round(Math.log10(c.max));e++)for(const m of [2,3,4,5,6,7,8,9])vals.push(m*Math.pow(10,e));
 series.push({type:'custom',...ax(i),clip:false,silent:true,animation:false,z:5,data:vals.map(v=>which=='y'?[o.min,v]:[v,o.min]),
  renderItem:(p,api)=>{
   const q=api.coord([api.value(0),api.value(1)]),cs=p.coordSys,s={stroke:'#111',lineWidth:1};
   const yy=Math.round(q[1])+.5,xx=Math.round(q[0])+.5;
   return {type:'group',children:which=='y'?[
     {type:'line',shape:{x1:cs.x,y1:yy,x2:cs.x+3,y2:yy},style:s},{type:'line',shape:{x1:cs.x+cs.width-3,y1:yy,x2:cs.x+cs.width,y2:yy},style:s}]:[
     {type:'line',shape:{x1:xx,y1:cs.y,x2:xx,y2:cs.y+3},style:s},{type:'line',shape:{x1:xx,y1:cs.y+cs.height-3,x2:xx,y2:cs.y+cs.height},style:s}]};
  }});
}
// histograms
const edge='rgba(0,0,0,.5)';
hist(0,'all',aBlue,aStart,aWidth,C.blue,edge);hist(0,'width',aGreen,aStart,aWidth,C.green,edge);hist(0,'detected',aRed,aStart,aWidth,C.red,edge);
hist(4,'all',eBlue,0,eWidth,C.blue);hist(4,'width',eGreen,0,eWidth,C.green);hist(4,'detected',eRed,0,eWidth,C.red);
hist(5,'all',fBlue,0,fWidth,C.blue);hist(5,'width',fGreen,0,fWidth,C.green);hist(5,'detected',fRed,0,fWidth,C.red);
hist(6,'all',gBlue,gStart,gWidth,C.blue);hist(6,'width',gGreen,gStart,gWidth,C.green);hist(6,'detected',gRed,gStart,gWidth,C.red);
// width plots
const DOTB='#3a3aff',DOTG='#1f6f55',DOTR='#f02020';
const BL='#2a2aff',GR='#1b7050';
[[1,bBlueSparse,bBlueWash,bBlueCore,bBlueDots,bGreenOuter,bGreenBand,bGreenMid,bGreenCore,bGreenDots,bRedDots],
 [2,cBlueSparse,cBlueWash,cBlueCore,cBlueDots,cGreenOuter,cGreenBand,cGreenMid,cGreenCore,cGreenDots,cRedDots]].forEach(s=>{
 const i=s[0];
 poly(i,s[1],tile(.07,BL,1));poly(i,s[2],tile(.5,BL,1));poly(i,s[3],'#0000ff');dots(i,s[4],DOTB);
 poly(i,s[5],tile(.07,GR,1),.3);poly(i,s[6],tile(.22,GR,1),.3);poly(i,s[7],tile(.5,GR,1),.3);poly(i,s[8],'#008000',.15);
 dots(i,s[9],DOTG);dots(i,s[10],DOTR);
});
// map
poly(3,dBlueWash,tile(.12,BL,1),.4);poly(3,dBlueMid,tile(.45,BL,1),.4);poly(3,dBlueSolid,'#0000ff',.4);
stroke(3,dRing2,tile(.3,'#b0b0ff',1),8);stroke(3,dRing1,tile(.35,'#b0b0ff',1),11);stroke(3,dRing3,tile(.12,'#b0b0ff',1),6);
dots(3,dBlueDots,DOTB);
poly(3,dGreenWash,tile(.4,'#1b6a50',1),.25);poly(3,dGreenLow,tile(.3,'#1b7050',1),.2);poly(3,dGreenMain,'#008000',.2);
poly(3,dGreenMain,tile(.015,'#ffffff',1),.2);
dots(3,dGreenDots,DOTG);poly(3,dRedBlob,tile(.45,'#f00000',1),.2);poly(3,dRedCore,'#f00000',.2);dots(3,dRedDots,'#f00000');
series.push({type:'scatter',...ax(3),animation:false,silent:true,symbol:'circle',symbolSize:9,itemStyle:{color:'#000',borderColor:'#000',borderWidth:.5},data:dGalacticCentre,z:4});
series.push({type:'scatter',...ax(3),animation:false,silent:true,symbol:'circle',symbolSize:9,itemStyle:{color:'#bfbf00',borderColor:'#000',borderWidth:.7},data:dSun,z:4});
// h
const p10=a=>a.map(q=>[Math.pow(10,q[0]),Math.pow(10,q[1])]);
series.push({type:'scatter',...ax(7),clip:true,animation:false,silent:true,symbol:'circle',symbolSize:5.6,itemStyle:{color:'#ff0000'},data:p10(hPoints)});
series.push({type:'scatter',...ax(7),clip:true,animation:false,silent:true,z:4,symbol:'path://M0,-10L2.35,-3.24L9.51,-3.09L3.8,1.24L5.88,8.09L0,4L-5.88,8.09L-3.8,1.24L-9.51,-3.09L-2.35,-3.24Z',symbolSize:19,itemStyle:{color:'#bfbf00',borderColor:'#333',borderWidth:.7},data:p10(hStar)});
// minor ticks
minor(4,'y');minor(5,'y');minor(6,'y');minor(7,'y');minor(7,'x');
const chart=echarts.init(document.getElementById('c'),null,{renderer:'canvas'});
chart.setOption({animation:false,backgroundColor:'#fff',grid,xAxis,yAxis,title,series});
</script></body></html>
